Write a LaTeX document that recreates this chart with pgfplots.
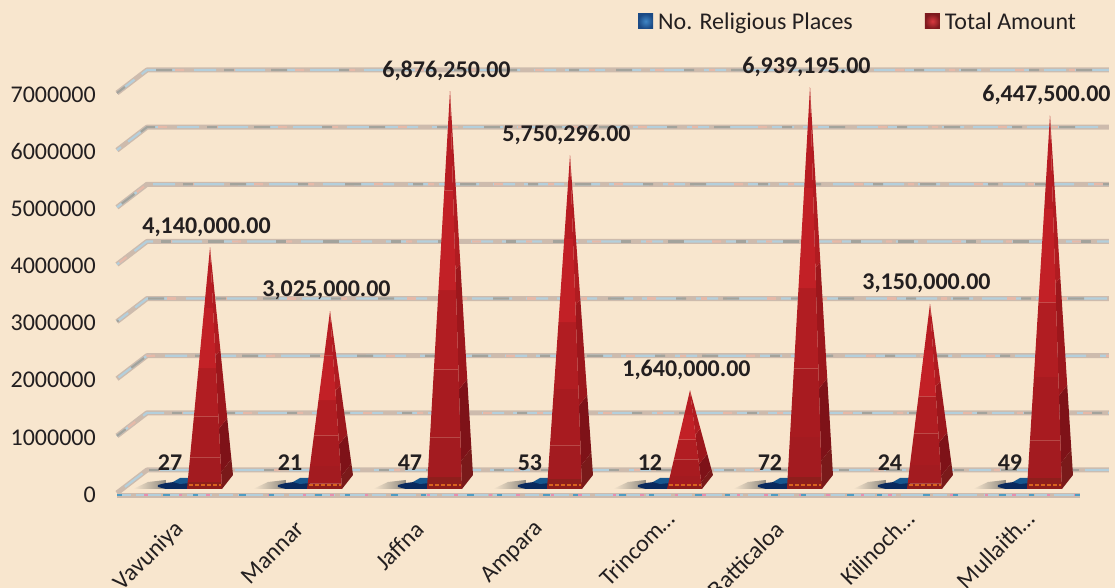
\documentclass[border=0pt]{standalone}
\usepackage{pgfplots}
\usepackage{pgfplotstable}
\usepackage{fontspec}
\setmainfont{Carlito}
\pgfplotsset{compat=1.18}
\definecolor{bg}{HTML}{F8E6CE}
\definecolor{txt}{HTML}{231F20}
\definecolor{glA}{HTML}{CDBBAD}
\definecolor{glB}{HTML}{B4CFDC}
\definecolor{glC}{HTML}{E6B9A8}
\definecolor{glD}{HTML}{A3A39C}
\definecolor{flP}{HTML}{E58FB0}
\definecolor{flB}{HTML}{4F9DC4}
\definecolor{shad}{HTML}{8F8A80}
\definecolor{navy}{HTML}{0A2A5E}
\definecolor{midb}{HTML}{17578F}
\definecolor{orng}{HTML}{D8641E}
\definecolor{rsA}{HTML}{7A1A1A}
\definecolor{rsB}{HTML}{7E1218}
\definecolor{rsC}{HTML}{9C171C}
\definecolor{rsD}{HTML}{B01C21}
\definecolor{rfA}{HTML}{8E1E1C}
\definecolor{rfB}{HTML}{A31B20}
\definecolor{rfC}{HTML}{A81B20}
\definecolor{rfD}{HTML}{B11D22}
\definecolor{rfE}{HTML}{C22026}
\definecolor{rfF}{HTML}{B81C22}
\definecolor{lgbi}{HTML}{3F86C6}
\definecolor{lgbo}{HTML}{1B4A85}
\definecolor{lgri}{HTML}{D8393F}
\definecolor{lgro}{HTML}{7E1A1E}
\pgfplotstableread{
c v lab
0 4140000 4,140,000.00
1 3025000 3,025,000.00
2 6876250 6,876,250.00
3 5750296 5,750,296.00
4 1640000 1,640,000.00
5 6939195 6,939,195.00
6 3150000 3,150,000.00
7 6447500 6,447,500.00
}\amount
\pgfplotstableread{
c v lab
0 27 27
1 21 21
2 47 47
3 53 53
4 12 12
5 72 72
6 24 24
7 49 49
}\places
% one band of a pyramid face: c, value, dx0 dy0 dx1 dy1, f0 f1, colour
\newcommand\band[9]{%
\addplot[forget plot,draw=none,fill=#9] table[row sep=\\,
  x expr={#1+1/6+\thisrow{dx}*(1-\thisrow{f})/120},
  y expr={\thisrow{dy}*(1-\thisrow{f})*17500+\thisrow{f}*#2+157500}]
  {dx dy f\\ #3 #4 #7\\ #5 #6 #7\\ #5 #6 #8\\ #3 #4 #8\\ #3 #4 #7\\};}
\newcommand\pyr[2]{%
\band{#1}{#2}{12}{-5}{23}{9}{0}{0.07}{rsA}%
\band{#1}{#2}{12}{-5}{23}{9}{0.07}{0.25}{rsB}%
\band{#1}{#2}{12}{-5}{23}{9}{0.25}{0.55}{rsC}%
\band{#1}{#2}{12}{-5}{23}{9}{0.55}{1}{rsD}%
\band{#1}{#2}{-23}{-5}{12}{-5}{0}{0.03}{rfA}%
\band{#1}{#2}{-23}{-5}{12}{-5}{0.03}{0.13}{rfB}%
\band{#1}{#2}{-23}{-5}{12}{-5}{0.13}{0.3}{rfC}%
\band{#1}{#2}{-23}{-5}{12}{-5}{0.3}{0.5}{rfD}%
\band{#1}{#2}{-23}{-5}{12}{-5}{0.5}{0.75}{rfE}%
\band{#1}{#2}{-23}{-5}{12}{-5}{0.75}{1}{rfF}%
\addplot[forget plot,orng,line width=1.2pt,dash pattern=on 4pt off 2pt] table[row sep=\\,
  x expr={#1+1/6+\thisrow{dx}/120},y expr={-1*17500+157500}]
  {dx\\ -21\\ 11\\};
}
% floor shadow and flat blue pyramid for one category
\newcommand\floorblue[2]{%
\addplot[forget plot,draw=none,left color=bg,right color=shad] table[row sep=\\,
  x expr={#1+1/6+\thisrow{dx}/120},y expr={\thisrow{dy}*17500+157500}]
  {dx dy\\ -77 -5\\ -62 2\\ -44 4\\ -44 -5\\ -77 -5\\};
\addplot[forget plot,draw=none,fill=navy] table[row sep=\\,
  x expr={#1+1/6+\thisrow{dx}/120},y expr={\thisrow{dy}*17500+157500+#2}]
  {dx dy\\ -52 -1\\ -44 1\\ -36 2\\ -20 3\\ -20 -5\\ -44 -5\\ -52 -3\\ -52 -1\\};
\addplot[forget plot,draw=none,fill=midb] table[row sep=\\,
  x expr={#1+1/6+\thisrow{dx}/120},y expr={\thisrow{dy}*17500+157500+#2}]
  {dx dy\\ -37 2\\ -30 6\\ -20 6\\ -20 1\\ -30 0\\ -37 2\\};}
% textured wall grid line at a level; #2 is the dash phase
\newcommand\gridl[2]{%
\addplot[forget plot,glA,line width=5pt,line join=bevel] table[row sep=\\,y expr={\thisrow{y}+#1}]
  {x y\\ -0.6083 0\\ -0.3583 402500\\ 7.6583 402500\\};
\addplot[forget plot,glB,line width=2.2pt,dash pattern=on 22pt off 9pt on 40pt off 14pt,dash phase=#2] table[row sep=\\,y expr={\thisrow{y}+#1}]
  {x y\\ -0.6083 0\\ -0.3583 402500\\ 7.6583 402500\\};
\addplot[forget plot,glC,line width=2.2pt,dash pattern=on 6pt off 60pt on 9pt off 45pt,dash phase=#2] table[row sep=\\,y expr={\thisrow{y}+#1}]
  {x y\\ -0.6083 0\\ -0.3583 402500\\ 7.6583 402500\\};
\addplot[forget plot,glD,line width=2.2pt,dash pattern=on 10pt off 37pt on 16pt off 52pt,dash phase=#2] table[row sep=\\,y expr={\thisrow{y}+#1}]
  {x y\\ -0.6083 0\\ -0.3583 402500\\ 7.6583 402500\\};}
\begin{document}
\begin{tikzpicture}[x=1pt,y=1pt]
\useasboundingbox (0,0) rectangle (1115,588);
\clip (0,0) rectangle (1115,588);
\fill[bg] (0,0) rectangle (1115,588);
\begin{axis}[
  at={(100pt,91pt)},anchor=south west,
  scale only axis,width=1015pt,height=497pt,
  xmin=-0.75,xmax=7.7083333,ymin=-70000,ymax=8627500,
  axis line style={draw=none},
  major tick length=0pt,
  ytick pos=left,xtick pos=bottom,
  clip=false,
  font=\fontsize{24}{27}\selectfont,
  every tick label/.append style={text=txt},
  scaled y ticks=false,
  /pgf/number format/assume math mode=true,
  /pgf/number format/fixed,
  /pgf/number format/1000 sep={},
  ytick={0,1000000,2000000,3000000,4000000,5000000,6000000,7000000},
  yticklabel style={inner sep=0pt,anchor=east,xshift=-4pt,yshift=-1.5pt},
  xtick={0,...,7},
  xticklabels={Vavuniya,Mannar,Jaffna,Ampara,{Trincom…\kern-15pt},Batticaloa,{Kilinoch…\kern-15pt},{Mullaith…\kern-15pt}},
  xticklabel style={rotate=45,anchor=east,inner sep=0pt,xshift=-27pt,yshift=-13pt},
  legend columns=2,
  legend cell align=left,
  legend style={at={(rel axis cs:0.53,0.979)},anchor=north west,draw=none,fill=none,
    inner sep=0pt,font=\fontsize{24}{27}\selectfont,text=txt,
    /tikz/every odd column/.append style={column sep=3pt},
    /tikz/every even column/.append style={column sep=70pt}},
]
\gridl{7000000}{0}
\gridl{6000000}{17}
\gridl{5000000}{41}
\gridl{4000000}{63}
\gridl{3000000}{8}
\gridl{2000000}{29}
\gridl{1000000}{52}
\gridl{0}{75}
% floor front edge
\addplot[forget plot,glA,line width=4.5pt] coordinates {(-0.6083,-42000) (7.4167,-42000)};
\addplot[forget plot,glB,line width=2.2pt,dash pattern=on 14pt off 5pt on 25pt off 7pt] coordinates {(-0.6083,-42000) (7.4167,-42000)};
\addplot[forget plot,flP,line width=2.2pt,dash pattern=on 3pt off 24pt on 4pt off 31pt] coordinates {(-0.6083,-42000) (7.4167,-42000)};
\addplot[forget plot,flB,line width=2.2pt,dash pattern=on 5pt off 41pt on 7pt off 23pt] coordinates {(-0.6083,-42000) (7.4167,-42000)};
\floorblue{0}{27}\floorblue{1}{21}\floorblue{2}{47}\floorblue{3}{53}\floorblue{4}{12}\floorblue{5}{72}\floorblue{6}{24}\floorblue{7}{49}
\pyr{0}{4140000}\pyr{1}{3025000}\pyr{2}{6876250}\pyr{3}{5750296}
\pyr{4}{1640000}\pyr{5}{6939195}\pyr{6}{3150000}\pyr{7}{6447500}
\addplot[draw=none,mark=none,
  legend image code/.code={\shade[inner color=lgbi,outer color=lgbo] (0pt,-7pt) rectangle (15pt,8pt);},
  point meta=explicit symbolic,nodes near coords,
  every node near coord/.append style={anchor=center,yshift=21.5pt,inner sep=0pt,text=txt,font=\fontsize{24}{27}\selectfont\bfseries}]
  table[x expr={\thisrow{c}-1/6},y expr={\thisrow{v}+157500},meta=lab] {\places};
\addlegendentry{No. Religious Places}
\addplot[draw=none,mark=none,
  legend image code/.code={\shade[inner color=lgri,outer color=lgro] (0pt,-7pt) rectangle (15pt,8pt);},
  point meta=explicit symbolic,nodes near coords,
  every node near coord/.append style={anchor=center,yshift=20.5pt,inner sep=0pt,text=txt,font=\fontsize{24}{27}\selectfont\bfseries}]
  table[x expr={\thisrow{c}+1/6-3.5/120},y expr={\thisrow{v}+157500},meta=lab] {\amount};
\addlegendentry{Total Amount}
\end{axis}
\end{tikzpicture}
\end{document}
